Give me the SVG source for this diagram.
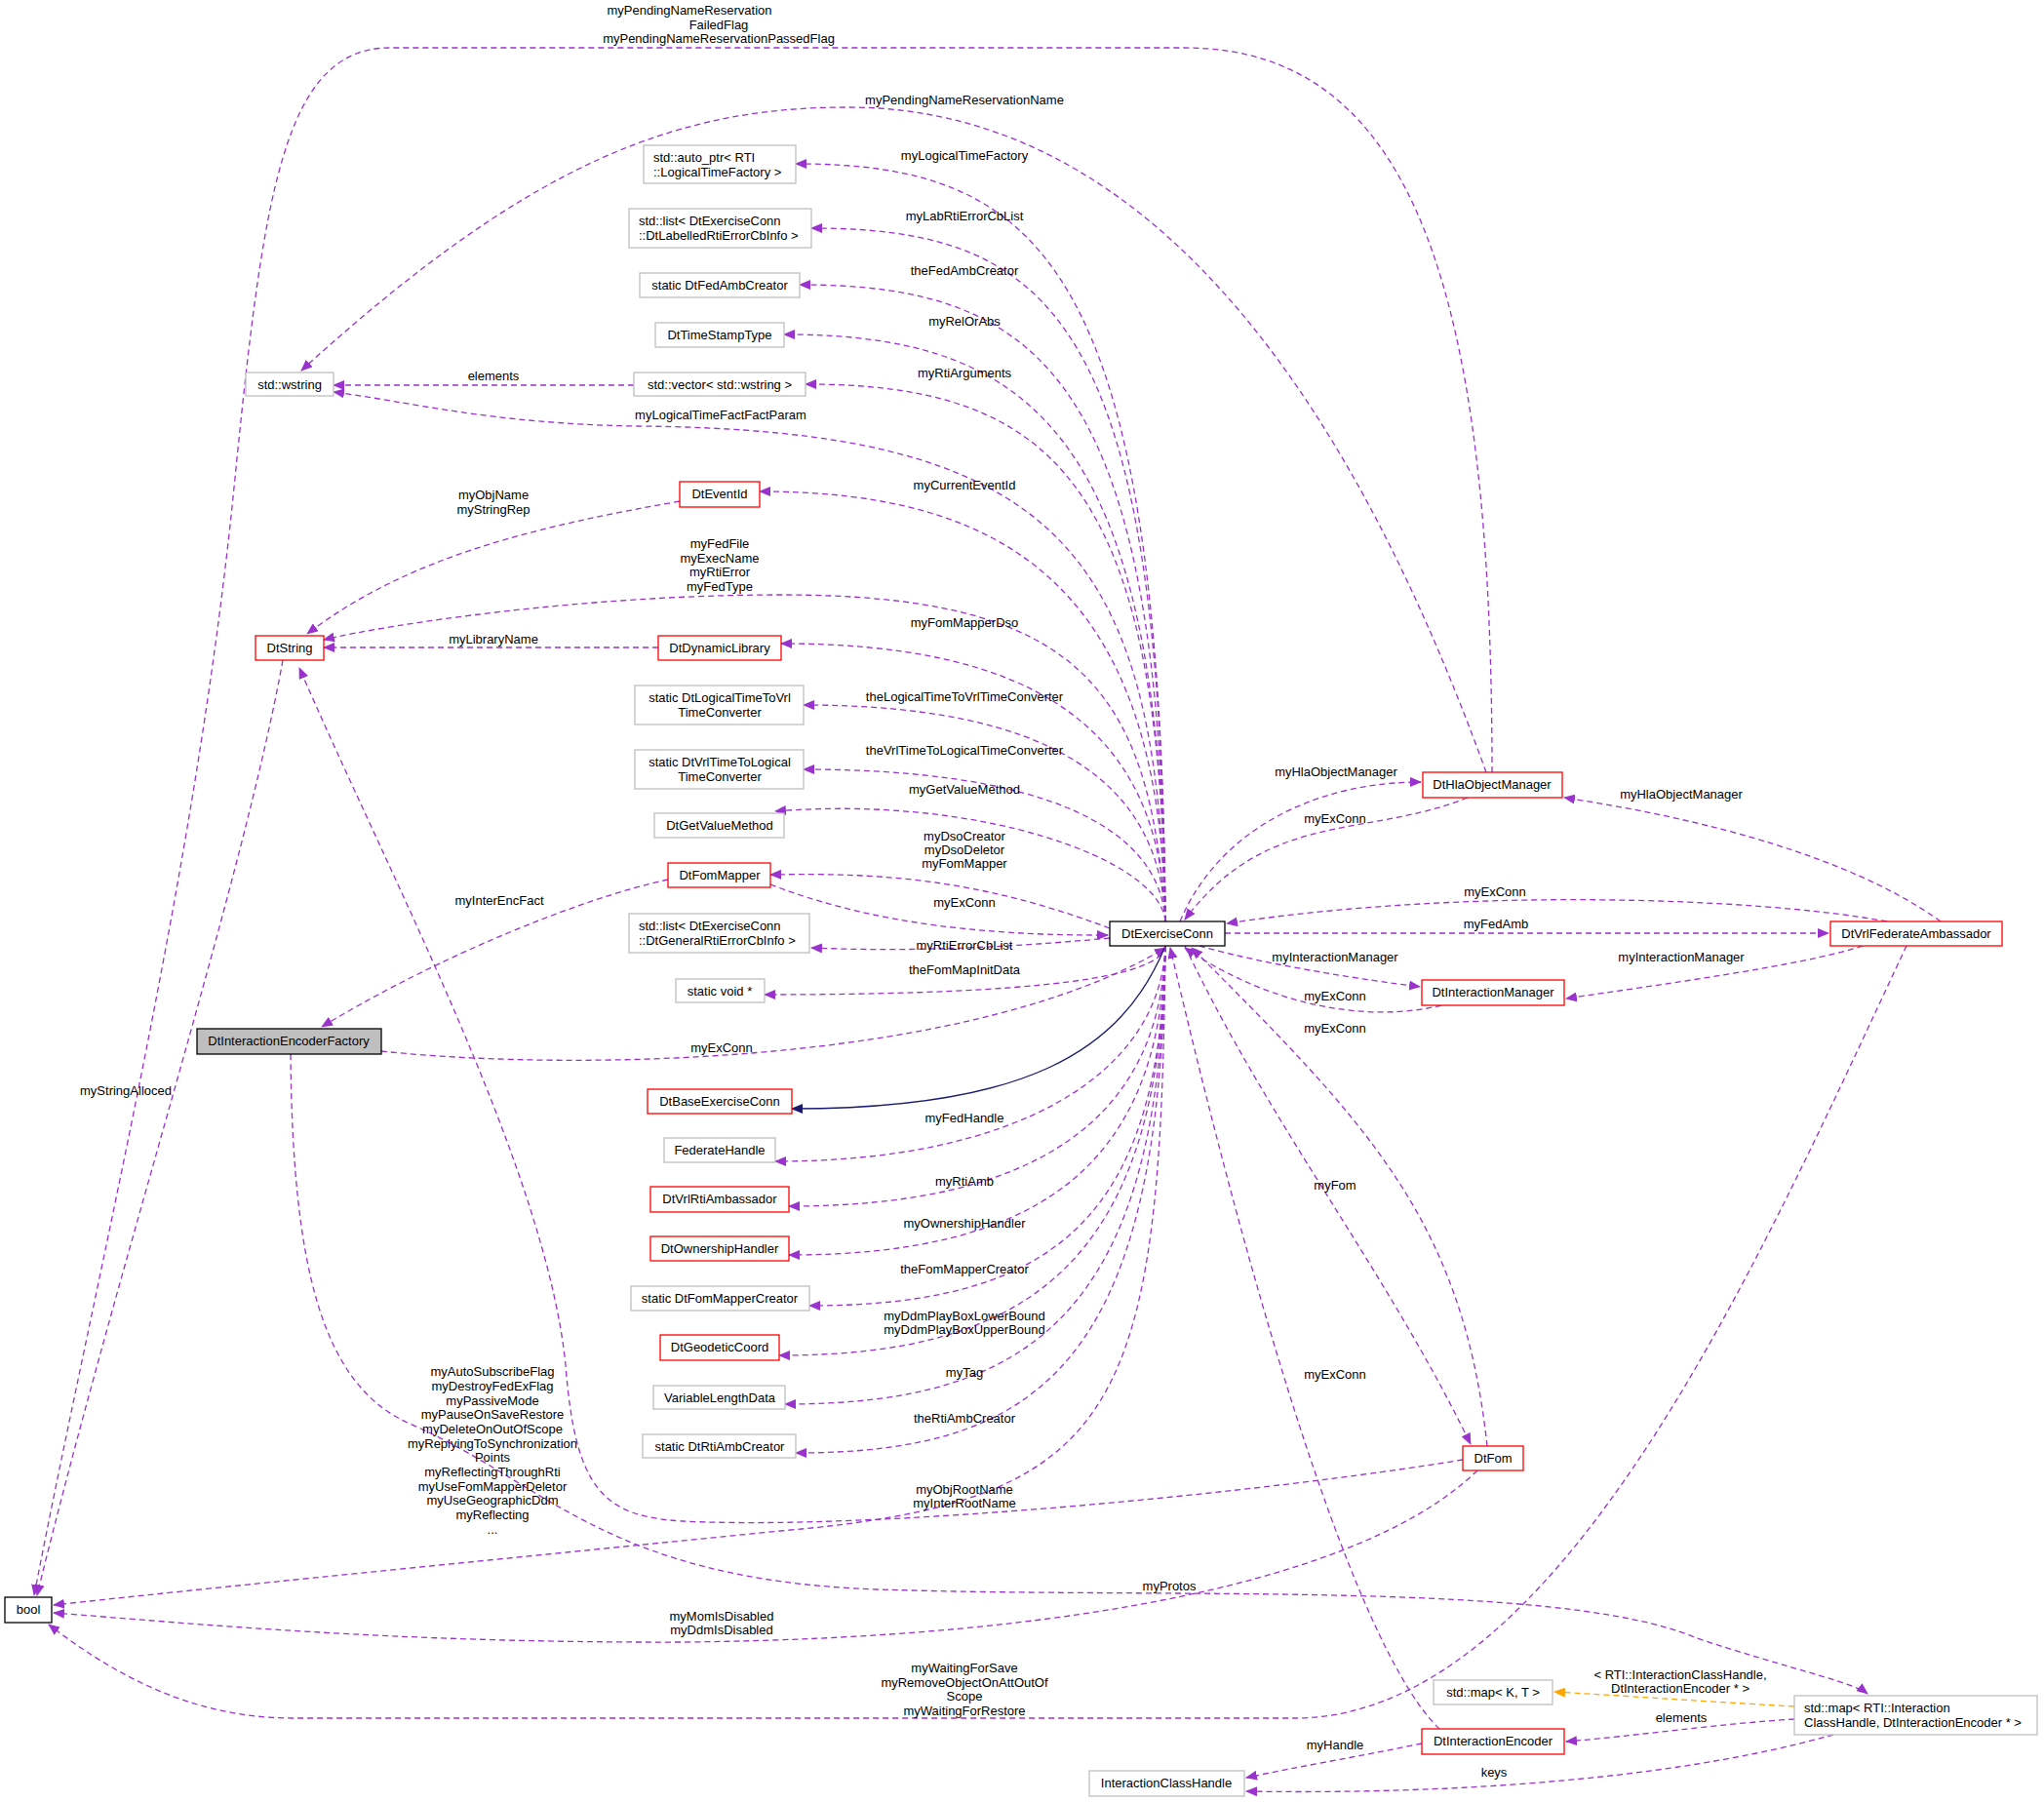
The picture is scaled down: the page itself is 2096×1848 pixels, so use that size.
<svg xmlns="http://www.w3.org/2000/svg" width="2096" height="1848" viewBox="0 0 2096 1848">
<style>
text{font-family:"Liberation Sans",Helvetica,Arial,sans-serif;font-size:13px;fill:#000}
.c{text-anchor:middle}
rect{fill:#fff;stroke-width:1.3}
.r rect{stroke:#ff0000}
.g rect{stroke:#bfbfbf}
.k rect{stroke:#000}
.e path{fill:none;stroke:#9a32cd;stroke-width:1.3;stroke-dasharray:6,4;marker-end:url(#a)}
.e path.inh{stroke:#191970;stroke-dasharray:none;marker-end:url(#n)}
.e path.tpl{stroke:#ffa500;marker-end:url(#o)}
</style>
<defs>
<marker id="a" markerWidth="12" markerHeight="10" refX="11" refY="5" orient="auto" markerUnits="userSpaceOnUse"><path d="M0,0 L12,5 L0,10z" fill="#9a32cd"/></marker>
<marker id="n" markerWidth="12" markerHeight="10" refX="11" refY="5" orient="auto" markerUnits="userSpaceOnUse"><path d="M0,0 L12,5 L0,10z" fill="#191970"/></marker>
<marker id="o" markerWidth="12" markerHeight="10" refX="11" refY="5" orient="auto" markerUnits="userSpaceOnUse"><path d="M0,0 L12,5 L0,10z" fill="#ffa500"/></marker>
</defs>
<rect x="0" y="0" width="2096" height="1848" style="fill:#fff;stroke:none"/>
<g id="edges" class="e">
<path d="M1530,792 C1530,300 1450,49 1215,49 L400,49 C290,49 270,200 240,500 C200,900 100,1300 35,1636"/>
<path d="M1524,792 C1400,450 1200,110 870,110 C700,110 550,160 309,380"/>
<path d="M1195,945 C1190,268 1066,168 816,168"/>
<path d="M1195,945 C1190,330 1082,234 832,234"/>
<path d="M1195,945 C1190,390 1070,292 820,292"/>
<path d="M1195,945 C1190,440 1054,343 804,343"/>
<path d="M1195,945 C1190,490 1076,394 826,394"/>
<path d="M1195,945 C1185,560 1080,440 650,437 C500,434 420,412 342,402"/>
<path d="M650,395 L342,395"/>
<path d="M1195,945 C1190,600 1029,504 779,504"/>
<path d="M697,514 C550,540 420,570 315,650"/>
<path d="M1195,945 C1180,700 1100,610 800,610 C600,610 400,640 332,656"/>
<path d="M675,664 L332,664"/>
<path d="M1195,945 C1190,740 1051,660 801,660"/>
<path d="M1195,945 C1190,800 1074,723 824,723"/>
<path d="M1195,945 C1190,850 1074,789 824,789"/>
<path d="M1195,945 C1190,880 1000,815 795,832"/>
<path d="M1138,952 C1000,900 900,895 790,897"/>
<path d="M790,907 C850,930 950,960 1136,959"/>
<path d="M685,902 C600,920 450,980 330,1053"/>
<path d="M1138,962 C1000,975 900,975 832,972"/>
<path d="M1195,970 C1190,1010 1000,1020 784,1020"/>
<path d="M391,1078 C600,1100 1000,1090 1195,972"/>
<path class="inh" d="M1195,970 C1150,1080 1050,1137 812,1137"/>
<path d="M1195,970 C1190,1100 1045,1191 795,1191"/>
<path d="M1195,970 C1190,1150 1059,1237 809,1237"/>
<path d="M1195,970 C1190,1200 1059,1287 809,1287"/>
<path d="M1195,970 C1190,1250 1080,1339 830,1339"/>
<path d="M1195,970 C1190,1300 1049,1390 799,1390"/>
<path d="M1195,970 C1190,1350 1055,1440 805,1440"/>
<path d="M1195,970 C1190,1400 1066,1490 816,1490"/>
<path d="M1195,970 C1190,1450 1150,1540 800,1570 C500,1600 200,1630 55,1646"/>
<path d="M290,677 C250,900 120,1300 38,1636"/>
<path d="M1500,1497 C1300,1530 900,1570 700,1560 C620,1555 590,1530 580,1400 C560,1200 400,900 307,685"/>
<path d="M298,1081 C300,1300 330,1420 420,1460 C560,1520 620,1620 900,1630 C1200,1640 1600,1620 1740,1680 C1830,1710 1900,1725 1915,1737"/>
<path d="M1515,1508 C1400,1620 1100,1680 700,1684 C400,1685 200,1665 55,1654"/>
<path d="M1955,970 C1800,1300 1600,1760 1329,1762 L300,1762 C200,1762 120,1720 50,1666"/>
<path d="M1476,1773 C1400,1700 1300,1400 1200,972"/>
<path d="M1215,970 C1300,1150 1420,1300 1508,1481"/>
<path d="M1525,1483 C1500,1250 1400,1150 1222,972"/>
<path d="M1230,970 C1300,990 1400,1005 1456,1012"/>
<path d="M1478,1031 C1400,1050 1300,1030 1215,972"/>
<path d="M1210,945 C1250,850 1350,802 1457,802"/>
<path d="M1505,818 C1400,860 1300,830 1215,943"/>
<path d="M1256,957 L1875,957"/>
<path d="M1935,945 C1800,920 1500,910 1258,947"/>
<path d="M1990,945 C1900,880 1750,840 1604,818"/>
<path d="M1910,970 C1850,990 1700,1010 1606,1024"/>
<path class="tpl" d="M1840,1750 C1750,1745 1680,1740 1594,1735"/>
<path d="M1840,1763 C1760,1768 1680,1780 1606,1786"/>
<path d="M1880,1779 C1700,1830 1450,1840 1278,1837"/>
<path d="M1458,1788 C1400,1800 1330,1812 1278,1823"/>
</g>
<g id="labels">
<text class="c" x="707" y="15">myPendingNameReservation</text>
<text class="c" x="737" y="30">FailedFlag</text>
<text class="c" x="737" y="44">myPendingNameReservationPassedFlag</text>
<text class="c" x="989" y="107">myPendingNameReservationName</text>
<text class="c" x="989" y="164">myLogicalTimeFactory</text>
<text class="c" x="989" y="226">myLabRtiErrorCbList</text>
<text class="c" x="989" y="282">theFedAmbCreator</text>
<text class="c" x="989" y="334">myRelOrAbs</text>
<text class="c" x="989" y="387">myRtiArguments</text>
<text class="c" x="506" y="390">elements</text>
<text class="c" x="739" y="430">myLogicalTimeFactFactParam</text>
<text class="c" x="989" y="502">myCurrentEventId</text>
<text class="c" x="506" y="512">myObjName</text>
<text class="c" x="506" y="527">myStringRep</text>
<text class="c" x="738" y="562">myFedFile</text>
<text class="c" x="738" y="577">myExecName</text>
<text class="c" x="738" y="591">myRtiError</text>
<text class="c" x="738" y="606">myFedType</text>
<text class="c" x="989" y="643">myFomMapperDso</text>
<text class="c" x="506" y="660">myLibraryName</text>
<text class="c" x="989" y="719">theLogicalTimeToVrlTimeConverter</text>
<text class="c" x="989" y="774">theVrlTimeToLogicalTimeConverter</text>
<text class="c" x="989" y="814">myGetValueMethod</text>
<text class="c" x="989" y="862">myDsoCreator</text>
<text class="c" x="989" y="876">myDsoDeletor</text>
<text class="c" x="989" y="890">myFomMapper</text>
<text class="c" x="512" y="928">myInterEncFact</text>
<text class="c" x="989" y="930">myExConn</text>
<text class="c" x="989" y="974">myRtiErrorCbList</text>
<text class="c" x="989" y="999">theFomMapInitData</text>
<text class="c" x="740" y="1079">myExConn</text>
<text class="c" x="129" y="1123">myStringAlloced</text>
<text class="c" x="989" y="1151">myFedHandle</text>
<text class="c" x="989" y="1216">myRtiAmb</text>
<text class="c" x="989" y="1259">myOwnershipHandler</text>
<text class="c" x="989" y="1306">theFomMapperCreator</text>
<text class="c" x="989" y="1354">myDdmPlayBoxLowerBound</text>
<text class="c" x="989" y="1368">myDdmPlayBoxUpperBound</text>
<text class="c" x="989" y="1412">myTag</text>
<text class="c" x="989" y="1459">theRtiAmbCreator</text>
<text class="c" x="505" y="1411">myAutoSubscribeFlag</text>
<text class="c" x="505" y="1426">myDestroyFedExFlag</text>
<text class="c" x="505" y="1441">myPassiveMode</text>
<text class="c" x="505" y="1455">myPauseOnSaveRestore</text>
<text class="c" x="505" y="1470">myDeleteOnOutOfScope</text>
<text class="c" x="505" y="1485">myReplyingToSynchronization</text>
<text class="c" x="505" y="1499">Points</text>
<text class="c" x="505" y="1514">myReflectingThroughRti</text>
<text class="c" x="505" y="1529">myUseFomMapperDeletor</text>
<text class="c" x="505" y="1543">myUseGeographicDdm</text>
<text class="c" x="505" y="1558">myReflecting</text>
<text class="c" x="505" y="1573">...</text>
<text class="c" x="989" y="1532">myObjRootName</text>
<text class="c" x="989" y="1546">myInterRootName</text>
<text class="c" x="1199" y="1631">myProtos</text>
<text class="c" x="740" y="1662">myMomIsDisabled</text>
<text class="c" x="740" y="1676">myDdmIsDisabled</text>
<text class="c" x="989" y="1715">myWaitingForSave</text>
<text class="c" x="989" y="1730">myRemoveObjectOnAttOutOf</text>
<text class="c" x="989" y="1744">Scope</text>
<text class="c" x="989" y="1759">myWaitingForRestore</text>
<text class="c" x="1370" y="796">myHlaObjectManager</text>
<text class="c" x="1369" y="844">myExConn</text>
<text class="c" x="1724" y="819">myHlaObjectManager</text>
<text class="c" x="1533" y="919">myExConn</text>
<text class="c" x="1534" y="952">myFedAmb</text>
<text class="c" x="1369" y="986">myInteractionManager</text>
<text class="c" x="1724" y="986">myInteractionManager</text>
<text class="c" x="1369" y="1026">myExConn</text>
<text class="c" x="1369" y="1059">myExConn</text>
<text class="c" x="1369" y="1220">myFom</text>
<text class="c" x="1369" y="1414">myExConn</text>
<text class="c" x="1723" y="1722">&lt; RTI::InteractionClassHandle,</text>
<text class="c" x="1723" y="1736">DtInteractionEncoder * &gt;</text>
<text class="c" x="1724" y="1766">elements</text>
<text class="c" x="1369" y="1794">myHandle</text>
<text class="c" x="1532" y="1822">keys</text>
</g>
<g id="n_autoptr" class="g"><rect x="660" y="149" width="156" height="39"/><text x="670" y="166">std::auto_ptr&lt; RTI</text><text x="670" y="181">::LogicalTimeFactory &gt;</text></g>
<g id="n_lablist" class="g"><rect x="645" y="214" width="187" height="40"/><text x="655" y="231">std::list&lt; DtExerciseConn</text><text x="655" y="246">::DtLabelledRtiErrorCbInfo &gt;</text></g>
<g id="n_fedambcreator" class="g"><rect x="656" y="280" width="164" height="25"/><text class="c" x="738" y="297">static DtFedAmbCreator</text></g>
<g id="n_timestamp" class="g"><rect x="672" y="331" width="132" height="25"/><text class="c" x="738" y="348">DtTimeStampType</text></g>
<g id="n_wstring" class="g"><rect x="252" y="382" width="90" height="24"/><text class="c" x="297" y="399">std::wstring</text></g>
<g id="n_vector" class="g"><rect x="650" y="382" width="176" height="24"/><text class="c" x="738" y="399">std::vector&lt; std::wstring &gt;</text></g>
<g id="n_eventid" class="r"><rect x="697" y="494" width="82" height="26"/><text class="c" x="738" y="511">DtEventId</text></g>
<g id="n_dtstring" class="r"><rect x="262" y="652" width="70" height="25"/><text class="c" x="297" y="669">DtString</text></g>
<g id="n_dynlib" class="r"><rect x="675" y="652" width="126" height="25"/><text class="c" x="738" y="669">DtDynamicLibrary</text></g>
<g id="n_l2v" class="g"><rect x="651" y="703" width="173" height="40"/><text class="c" x="738" y="720">static DtLogicalTimeToVrl</text><text class="c" x="738" y="735">TimeConverter</text></g>
<g id="n_v2l" class="g"><rect x="651" y="769" width="173" height="40"/><text class="c" x="738" y="786">static DtVrlTimeToLogical</text><text class="c" x="738" y="801">TimeConverter</text></g>
<g id="n_getvalue" class="g"><rect x="671" y="834" width="133" height="25"/><text class="c" x="738" y="851">DtGetValueMethod</text></g>
<g id="n_fommapper" class="r"><rect x="685" y="885" width="105" height="25"/><text class="c" x="738" y="902">DtFomMapper</text></g>
<g id="n_genlist" class="g"><rect x="645" y="937" width="185" height="40"/><text x="655" y="954">std::list&lt; DtExerciseConn</text><text x="655" y="969">::DtGeneralRtiErrorCbInfo &gt;</text></g>
<g id="n_voidp" class="g"><rect x="693" y="1004" width="91" height="24"/><text class="c" x="738" y="1021">static void *</text></g>
<g id="n_factory" class="k"><rect x="202" y="1055" width="189" height="26" style="fill:#bfbfbf"/><text class="c" x="296" y="1072">DtInteractionEncoderFactory</text></g>
<g id="n_baseec" class="r"><rect x="664" y="1117" width="148" height="25"/><text class="c" x="738" y="1134">DtBaseExerciseConn</text></g>
<g id="n_fedhandle" class="g"><rect x="681" y="1167" width="114" height="25"/><text class="c" x="738" y="1184">FederateHandle</text></g>
<g id="n_vrlrtiamb" class="r"><rect x="667" y="1217" width="142" height="26"/><text class="c" x="738" y="1234">DtVrlRtiAmbassador</text></g>
<g id="n_ownership" class="r"><rect x="667" y="1268" width="142" height="25"/><text class="c" x="738" y="1285">DtOwnershipHandler</text></g>
<g id="n_fmcreator" class="g"><rect x="647" y="1319" width="183" height="25"/><text class="c" x="738" y="1336">static DtFomMapperCreator</text></g>
<g id="n_geodetic" class="r"><rect x="677" y="1369" width="122" height="26"/><text class="c" x="738" y="1386">DtGeodeticCoord</text></g>
<g id="n_vld" class="g"><rect x="670" y="1421" width="135" height="24"/><text class="c" x="738" y="1438">VariableLengthData</text></g>
<g id="n_rtiambcreator" class="g"><rect x="659" y="1471" width="157" height="24"/><text class="c" x="738" y="1488">static DtRtiAmbCreator</text></g>
<g id="n_bool" class="k"><rect x="5" y="1638" width="48" height="26"/><text class="c" x="29" y="1655">bool</text></g>
<g id="n_exconn" class="k"><rect x="1138" y="945" width="118" height="25"/><text class="c" x="1197" y="962">DtExerciseConn</text></g>
<g id="n_hom" class="r"><rect x="1459" y="792" width="143" height="26"/><text class="c" x="1530" y="809">DtHlaObjectManager</text></g>
<g id="n_vfa" class="r"><rect x="1877" y="945" width="176" height="25"/><text class="c" x="1965" y="962">DtVrlFederateAmbassador</text></g>
<g id="n_im" class="r"><rect x="1458" y="1005" width="146" height="26"/><text class="c" x="1531" y="1022">DtInteractionManager</text></g>
<g id="n_fom" class="r"><rect x="1500" y="1483" width="62" height="25"/><text class="c" x="1531" y="1500">DtFom</text></g>
<g id="n_mapkt" class="g"><rect x="1470" y="1723" width="122" height="25"/><text class="c" x="1531" y="1740">std::map&lt; K, T &gt;</text></g>
<g id="n_map" class="g"><rect x="1840" y="1739" width="249" height="40"/><text x="1850" y="1756">std::map&lt; RTI::Interaction</text><text x="1850" y="1771">ClassHandle, DtInteractionEncoder * &gt;</text></g>
<g id="n_encoder" class="r"><rect x="1458" y="1773" width="146" height="26"/><text class="c" x="1531" y="1790">DtInteractionEncoder</text></g>
<g id="n_ich" class="g"><rect x="1117" y="1816" width="159" height="26"/><text class="c" x="1196" y="1833">InteractionClassHandle</text></g>
</svg>
